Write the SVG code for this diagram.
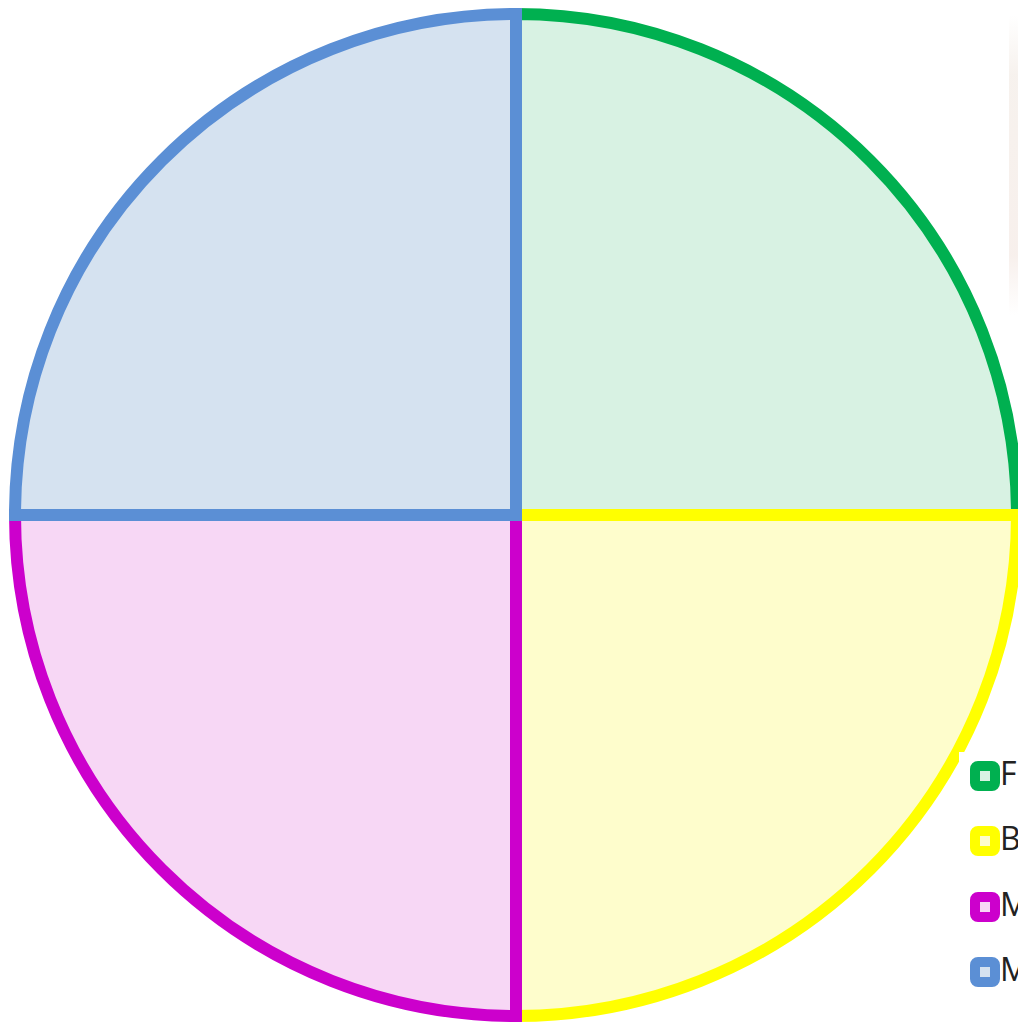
<svg xmlns="http://www.w3.org/2000/svg" width="1018" height="1025" viewBox="0 0 1018 1025">
  <style>
    .slice { stroke-width: 12; stroke-linejoin: miter; }
    .key { stroke-width: 10; }
    .lbl { font-family: "Open Sans", "Noto Sans", "Liberation Sans", sans-serif; font-size: 32px; fill: #222222; }
  </style>
  <defs>
    <linearGradient id="fade" x1="0" y1="0" x2="0" y2="1">
      <stop offset="0" stop-color="#f3ece6" stop-opacity="0"/>
      <stop offset="0.2" stop-color="#f3ece6" stop-opacity="0.7"/>
      <stop offset="0.8" stop-color="#f4e9e4" stop-opacity="0.7"/>
      <stop offset="1" stop-color="#f4e9e4" stop-opacity="0"/>
    </linearGradient>
  </defs>
  <rect width="1018" height="1025" fill="#ffffff"/>
  <rect x="1009" y="15" width="9" height="300" fill="url(#fade)"/>
  <g id="slice-green">
    <path class="slice" d="M516,515 L516,14 A501,501 0 0 1 1017,515 Z" fill="#d8f2e3" stroke="#00b050"/>
  </g>
  <g id="slice-yellow">
    <path class="slice" d="M516,515 L1017,515 A501,501 0 0 1 516,1016 Z" fill="#fefdcc" stroke="#ffff00"/>
  </g>
  <g id="slice-magenta">
    <path class="slice" d="M516,515 L516,1016 A501,501 0 0 1 15,515 Z" fill="#f7d7f5" stroke="#cc00cc"/>
  </g>
  <g id="slice-blue">
    <path class="slice" d="M516,515 L15,515 A501,501 0 0 1 516,14 Z" fill="#d5e2f0" stroke="#5b8fd5"/>
  </g>
  <g id="legend">
    <rect x="959" y="752" width="59" height="273" fill="#ffffff"/>
    <g id="legend-green">
      <rect class="key" x="975" y="766" width="20" height="20" rx="3" fill="#d8f2e3" stroke="#00b050"/>
      <text class="lbl" x="1000" y="785">F</text>
    </g>
    <g id="legend-yellow">
      <rect class="key" x="975" y="831" width="20" height="20" rx="3" fill="#fefdcc" stroke="#ffff00"/>
      <text class="lbl" x="1000" y="850">B</text>
    </g>
    <g id="legend-magenta">
      <rect class="key" x="975" y="897" width="20" height="20" rx="3" fill="#f7d7f5" stroke="#cc00cc"/>
      <text class="lbl" x="1000" y="916">M</text>
    </g>
    <g id="legend-blue">
      <rect class="key" x="975" y="962" width="20" height="20" rx="3" fill="#d5e2f0" stroke="#5b8fd5"/>
      <text class="lbl" x="1000" y="981">M</text>
    </g>
  </g>
</svg>
